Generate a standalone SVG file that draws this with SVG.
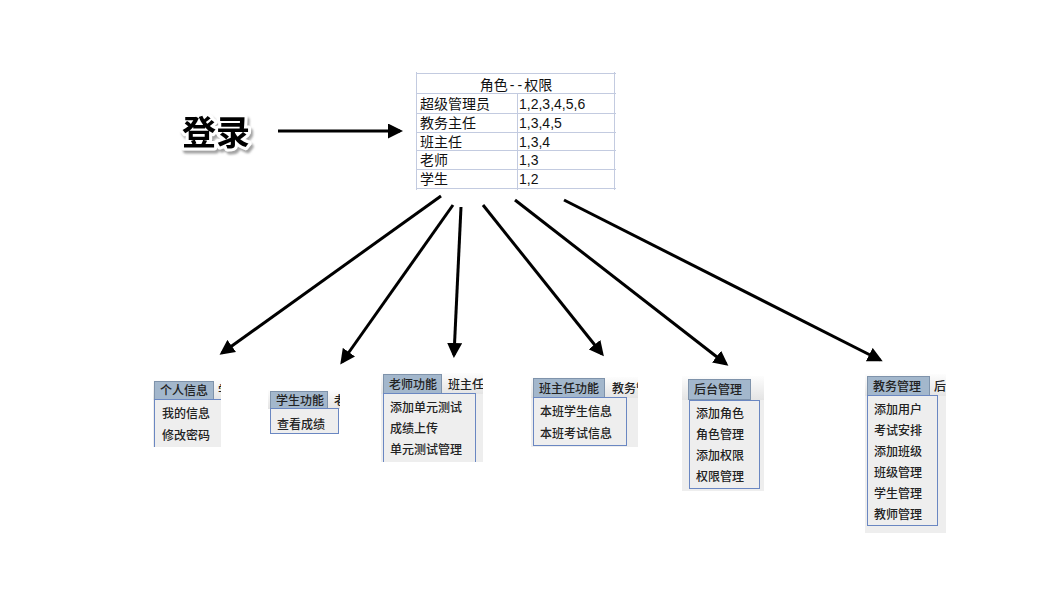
<svg xmlns="http://www.w3.org/2000/svg" width="1062" height="594" viewBox="0 0 1062 594">
<defs>
<style>
.t{font-family:"Liberation Sans","Noto Sans CJK SC",sans-serif;font-size:14px;fill:#111}
.m{font-family:"Noto Sans CJK SC",sans-serif;font-size:12px;fill:#222;font-weight:500}
.grid{stroke:#c3cbe0;stroke-width:1;fill:none}
.tab{fill:#a3b7cc;stroke:#7f93ab;stroke-width:1}
.dd{fill:#eeeeee;stroke:#6a87c2;stroke-width:1}
.bar{fill:url(#barg)}
.arr{stroke:#000;stroke-width:3;fill:none;marker-end:url(#ah)}
</style>
<linearGradient id="barg" x1="0" y1="0" x2="0" y2="1">
<stop offset="0" stop-color="#fdfdfd"/><stop offset="1" stop-color="#e4e4e4"/>
</linearGradient>
<filter id="sh" x="-20%" y="-20%" width="140%" height="150%">
<feDropShadow dx="2" dy="3" stdDeviation="1" flood-color="#999" flood-opacity="0.9"/>
</filter>
<marker id="ah" viewBox="0 0 10 10" refX="8" refY="5" markerWidth="5" markerHeight="5" orient="auto" markerUnits="strokeWidth">
<path d="M0,0 L10,5 L0,10 z" fill="#000"/>
</marker>
<clipPath id="c1"><rect x="153" y="379" width="68" height="68"/></clipPath>
<clipPath id="c2"><rect x="268" y="389" width="72" height="49"/></clipPath>
<clipPath id="c3"><rect x="381" y="372" width="102" height="90"/></clipPath>
<clipPath id="c4"><rect x="531" y="376" width="107" height="71"/></clipPath>
<clipPath id="c5"><rect x="682" y="376" width="82" height="115"/></clipPath>
<clipPath id="c6"><rect x="865" y="373" width="81" height="160"/></clipPath>
</defs>
<rect width="1062" height="594" fill="#fff"/>

<g id="login">
<text x="182" y="145" font-family="'Noto Sans CJK SC',sans-serif" font-weight="bold" font-size="34" fill="#000" stroke="#fff" stroke-width="6" stroke-linejoin="round" paint-order="stroke" filter="url(#sh)">登录</text>
</g>

<g id="role-table">
<rect x="416" y="74" width="198" height="114" fill="#fff"/>
<path class="grid" d="M416,73.5 H616 M416,93.5 H616 M416,113.5 H616 M416,132.5 H616 M416,150.5 H616 M416,169.5 H616 M416,188.5 H616 M416.5,72 V190 M517.5,93 V190 M614.5,72 V190"/>
<text class="t" x="516" y="90" text-anchor="middle">角色<tspan dx="2">-</tspan><tspan dx="3">-</tspan><tspan dx="2">权限</tspan></text>
<text class="t" x="420" y="109">超级管理员</text><text class="t" x="519" y="109">1,2,3,4,5,6</text>
<text class="t" x="420" y="128">教务主任</text><text class="t" x="519" y="128">1,3,4,5</text>
<text class="t" x="420" y="147">班主任</text><text class="t" x="519" y="147">1,3,4</text>
<text class="t" x="420" y="165">老师</text><text class="t" x="519" y="165">1,3</text>
<text class="t" x="420" y="184">学生</text><text class="t" x="519" y="184">1,2</text>
</g>

<g id="connectors">
<line class="arr" x1="278" y1="131" x2="400" y2="131"/>
<line class="arr" x1="441" y1="196" x2="222" y2="353"/>
<line class="arr" x1="453" y1="205" x2="342" y2="362"/>
<line class="arr" x1="461" y1="207" x2="454" y2="355"/>
<line class="arr" x1="483" y1="205" x2="602" y2="354"/>
<line class="arr" x1="515" y1="200" x2="726" y2="364"/>
<line class="arr" x1="564" y1="200" x2="880" y2="360"/>
</g>

<g id="menu-personal" clip-path="url(#c1)">
<rect x="153" y="380" width="68" height="20" class="bar"/>
<rect x="153" y="400" width="68" height="47" fill="#eeeeee"/>
<rect class="tab" x="154.5" y="381.5" width="59" height="18"/>
<text class="m" x="160" y="395">个人信息</text>
<text class="m" x="218" y="395">学</text>
<rect class="dd" x="154.5" y="399.5" width="80" height="60"/>
<text class="m" x="162" y="418">我的信息</text>
<text class="m" x="162" y="440">修改密码</text>
</g>

<g id="menu-student" clip-path="url(#c2)">
<rect x="268" y="390" width="72" height="19" class="bar"/>
<rect class="tab" x="270.5" y="391.5" width="57" height="17"/>
<text class="m" x="276" y="405">学生功能</text>
<text class="m" x="334" y="405">老</text>
<rect class="dd" x="270.5" y="408.5" width="68" height="25"/>
<text class="m" x="277" y="429">查看成绩</text>
</g>

<g id="menu-teacher" clip-path="url(#c3)">
<rect x="381" y="373" width="102" height="21" class="bar"/>
<rect x="381" y="394" width="102" height="68" fill="#eeeeee"/>
<rect class="tab" x="383.5" y="374.5" width="58" height="19"/>
<text class="m" x="389" y="389">老师功能</text>
<text class="m" x="448" y="389">班主任功能</text>
<rect class="dd" x="383.5" y="393.5" width="92" height="75"/>
<text class="m" x="390" y="412">添加单元测试</text>
<text class="m" x="390" y="433">成绩上传</text>
<text class="m" x="390" y="454">单元测试管理</text>
</g>

<g id="menu-headteacher" clip-path="url(#c4)">
<rect x="531" y="377" width="107" height="21" class="bar"/>
<rect x="531" y="398" width="107" height="49" fill="#eeeeee"/>
<rect class="tab" x="533.5" y="378.5" width="71" height="19"/>
<text class="m" x="539" y="393">班主任功能</text>
<text class="m" x="612" y="393">教务管理</text>
<rect class="dd" x="533.5" y="397.5" width="93" height="48"/>
<text class="m" x="540" y="416">本班学生信息</text>
<text class="m" x="540" y="438">本班考试信息</text>
</g>

<g id="menu-backend" clip-path="url(#c5)">
<rect x="682" y="376" width="82" height="24" class="bar"/>
<rect x="682" y="400" width="82" height="91" fill="#eeeeee"/>
<rect class="tab" x="688.5" y="379.5" width="62" height="20"/>
<text class="m" x="694" y="394">后台管理</text>
<rect class="dd" x="689.5" y="400.5" width="70" height="88"/>
<text class="m" x="696" y="418">添加角色</text>
<text class="m" x="696" y="439">角色管理</text>
<text class="m" x="696" y="460">添加权限</text>
<text class="m" x="696" y="481">权限管理</text>
</g>

<g id="menu-academic" clip-path="url(#c6)">
<rect x="865" y="374" width="81" height="22" class="bar"/>
<rect x="865" y="396" width="81" height="137" fill="#eeeeee"/>
<rect class="tab" x="867.5" y="376.5" width="62" height="19"/>
<text class="m" x="873" y="391">教务管理</text>
<text class="m" x="934" y="391">后台管理</text>
<rect class="dd" x="867.5" y="395.5" width="70" height="130"/>
<text class="m" x="874" y="414">添加用户</text>
<text class="m" x="874" y="435">考试安排</text>
<text class="m" x="874" y="456">添加班级</text>
<text class="m" x="874" y="477">班级管理</text>
<text class="m" x="874" y="498">学生管理</text>
<text class="m" x="874" y="519">教师管理</text>
</g>
</svg>
